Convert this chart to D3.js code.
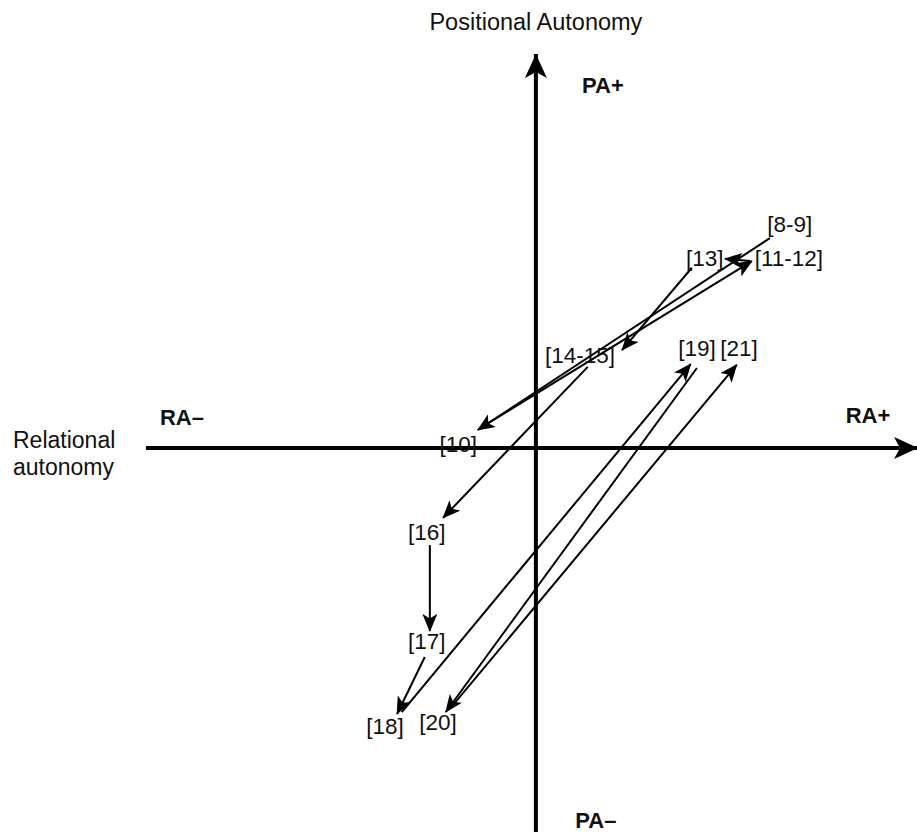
<!DOCTYPE html>
<html>
<head>
<meta charset="utf-8">
<script src="https://cdn.jsdelivr.net/npm/d3@7"></script>
<style>
  html, body { margin: 0; padding: 0; background: #fff; }
  svg { display: block; }
  text { font-family: Arial, "Liberation Sans", sans-serif; fill: #111; }
</style>
</head>
<body>
<svg id="chart" width="917" height="832"></svg>
<script>
// ---- Data (abstract plane: Relational autonomy = x, Positional autonomy = y) ----
const stageLabels = ["[8-9]", "[13]", "[11-12]", "[14-15]", "[19]", "[21]", "[10]", "[16]", "[17]", "[18]", "[20]"];
const labelX = [65.1, 43.3, 64.9, 11.3, 41.3, 52.1, -19.9, -28.0, -28.0, -38.7, -25.1];
const labelY = [57.4, 48.5, 48.5, 23.6, 25.6, 25.6, 1.0, -21.8, -49.5, -71.5, -70.5];

const arrowFromX = [60.0, -13.8, 54.9, 40.0, 13.3, -27.2, -28.5, -34.4, 41.3, -21.5];
const arrowFromY = [53.8, 5.4, 47.9, 46.2, 20.8, -24.9, -53.6, -67.7, 20.5, -66.2];
const arrowToX   = [-14.9, 55.4, 48.5, 22.1, -23.8, -27.2, -35.6, 39.7, -23.1, 51.5];
const arrowToY   = [4.6, 47.9, 48.5, 25.1, -17.9, -46.9, -68.2, 21.5, -67.7, 21.3];

const xAxisExtent = [-100, 98];
const yAxisExtent = [-99, 101];
const quadrantLabels = ["PA+", "PA\u2013", "RA\u2013", "RA+"];
const axisTitleY = "Positional Autonomy";
const axisTitleX = ["Relational", "autonomy"];

// ---- Scales ----
const x = d3.scaleLinear().domain([-100, 98]).range([146, 918]);
const y = d3.scaleLinear().domain([-100, 101]).range([838, 54]);

const svg = d3.select("#chart");
const defs = svg.append("defs");

defs.append("marker")
  .attr("id", "head")
  .attr("markerUnits", "userSpaceOnUse")
  .attr("viewBox", "0 0 18 15")
  .attr("markerWidth", 18).attr("markerHeight", 15)
  .attr("refX", 17).attr("refY", 7.5)
  .attr("orient", "auto")
  .append("path")
  .attr("d", "M0,0 L18,7.5 L0,15 L4.5,7.5 Z")
  .attr("fill", "#000");

defs.append("marker")
  .attr("id", "axisHead")
  .attr("markerUnits", "userSpaceOnUse")
  .attr("viewBox", "0 0 24 22")
  .attr("markerWidth", 24).attr("markerHeight", 22)
  .attr("refX", 24).attr("refY", 11)
  .attr("orient", "auto")
  .append("path")
  .attr("d", "M0,0 L24,11 L0,22 L6,11 Z")
  .attr("fill", "#000");

// ---- Axes ----
svg.append("line")
  .attr("x1", x(xAxisExtent[0])).attr("y1", y(0))
  .attr("x2", x(xAxisExtent[1])).attr("y2", y(0))
  .attr("stroke", "#000").attr("stroke-width", 4)
  .attr("marker-end", "url(#axisHead)");

svg.append("line")
  .attr("x1", x(0)).attr("y1", y(yAxisExtent[0]) + 10)
  .attr("x2", x(0)).attr("y2", y(yAxisExtent[1]))
  .attr("stroke", "#000").attr("stroke-width", 4)
  .attr("marker-end", "url(#axisHead)");

// ---- Arrows ----
const arrows = arrowFromX.map((d, i) => ({x1: d, y1: arrowFromY[i], x2: arrowToX[i], y2: arrowToY[i]}));
svg.append("g").selectAll("line").data(arrows).join("line")
  .attr("x1", d => x(d.x1)).attr("y1", d => y(d.y1))
  .attr("x2", d => x(d.x2)).attr("y2", d => y(d.y2))
  .attr("stroke", "#000").attr("stroke-width", 2)
  .attr("marker-end", "url(#head)");

// ---- Stage labels ----
const labels = stageLabels.map((t, i) => ({t, x: labelX[i], y: labelY[i]}));
svg.append("g").selectAll("text").data(labels).join("text")
  .attr("x", d => x(d.x)).attr("y", d => y(d.y))
  .attr("text-anchor", "middle")
  .attr("dominant-baseline", "central")
  .attr("font-size", 22.5)
  .text(d => d.t);

// ---- Quadrant labels ----
const qPos = [
  {x: x(0) + 67, y: 93},
  {x: x(0) + 60, y: 828},
  {x: 182, y: 425},
  {x: 868, y: 423}
];
svg.append("g").selectAll("text").data(quadrantLabels).join("text")
  .attr("x", (d, i) => qPos[i].x).attr("y", (d, i) => qPos[i].y)
  .attr("text-anchor", "middle")
  .attr("font-weight", "bold")
  .attr("font-size", 22)
  .text(d => d);

// ---- Axis titles ----
svg.append("text")
  .attr("x", x(0)).attr("y", 30)
  .attr("text-anchor", "middle")
  .attr("font-size", 23.5)
  .text(axisTitleY);

svg.append("text")
  .attr("x", 13).attr("y", 448)
  .attr("font-size", 23)
  .selectAll("tspan").data(axisTitleX).join("tspan")
  .attr("x", 13).attr("dy", (d, i) => i === 0 ? 0 : 27)
  .text(d => d);
</script>
</body>
</html>
